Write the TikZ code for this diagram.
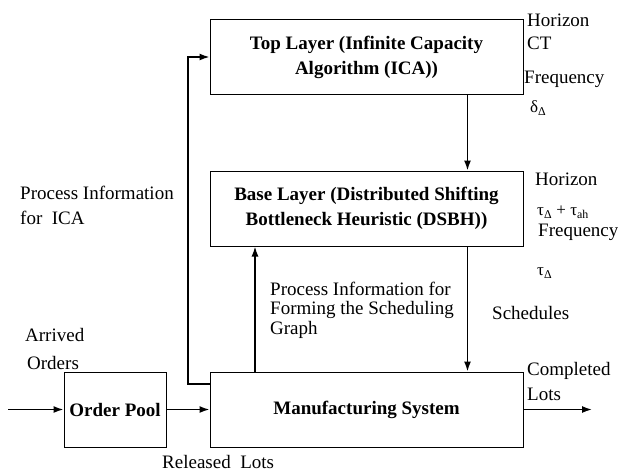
\documentclass[tikz,border=0pt]{standalone}
\usepackage{fontspec}
\setmainfont{Liberation Serif}
\usetikzlibrary{arrows.meta}
\begin{document}
\begin{tikzpicture}[x=1pt,y=-1pt,
 box/.style={draw, line width=1pt, minimum width=313pt, minimum height=75pt, inner sep=0pt, align=center, font=\fontsize{19}{25}\selectfont\bfseries},
 lbl/.style={anchor=west, inner sep=0pt, align=left, font=\fontsize{19}{25}\selectfont},
 sym/.style={anchor=west, inner sep=0pt, font=\fontsize{17}{20}\selectfont},
 conn/.style={line width=1.5pt, -{Latex[length=10pt,width=7pt]}}]
\useasboundingbox (0,0) rectangle (618,472);

\node[box] (top) at (366.5,57) {Top Layer (Infinite Capacity\\Algorithm (ICA))};
\node[box] (base) at (366.5,208.5) {Base Layer (Distributed Shifting\\Bottleneck Heuristic (DSBH))};
\node[box] (ms) at (366.5,409.5) {Manufacturing System};
\node[box, minimum width=102pt] (op) at (115,409.5) {Order Pool};

\coordinate (in) at (8,409.5);
\coordinate (out) at (592,409.5);
\coordinate (dn) at (467.5,0);
\coordinate (up) at (255,0);
\coordinate (fb) at (188,384);

\draw[conn] (in) -- (in -| op.west);
\draw[conn] (op.east) -- (op.east -| ms.west);
\draw[conn] (ms.east) -- (ms.east -| out);
\draw[conn] (top.south -| dn) -- (base.north -| dn);
\draw[conn] (base.south -| dn) -- (ms.north -| dn);
\draw[conn] (ms.north -| up) -- (base.south -| up);
\draw[conn] (fb -| ms.west) -- (fb) |- (top.west);

\node[lbl] (h1) at (527,20) {Horizon};
\node[lbl] (ct) at (527,43) {CT};
\node[lbl] (f1) at (524,79) {Frequency};
\node[sym] (d1) at (530,108) {δ\textsubscript{Δ}};
\node[lbl] (h2) at (535,179) {Horizon};
\node[sym] (t1) at (537,212) {τ\textsubscript{Δ} + τ\textsubscript{ah}};
\node[lbl] (f2) at (538,232) {Frequency};
\node[sym] (t2) at (537,273) {τ\textsubscript{Δ}};
\node[lbl] (sch) at (492,313) {Schedules};
\node[lbl] (pica) at (20,205.5) {Process Information\\for\ \ ICA};
\node[lbl, font=\fontsize{19}{19.5}\selectfont] (pfg) at (270,310) {Process Information for\\Forming the Scheduling\\Graph};
\node[lbl, font=\fontsize{19}{28}\selectfont] (ao) at (25,349) {Arrived\\\hspace*{2pt}Orders};
\node[lbl] (cl) at (527,381) {Completed\\Lots};
\node[lbl] (rl) at (162,462) {Released\ \ Lots};
\end{tikzpicture}
\end{document}
